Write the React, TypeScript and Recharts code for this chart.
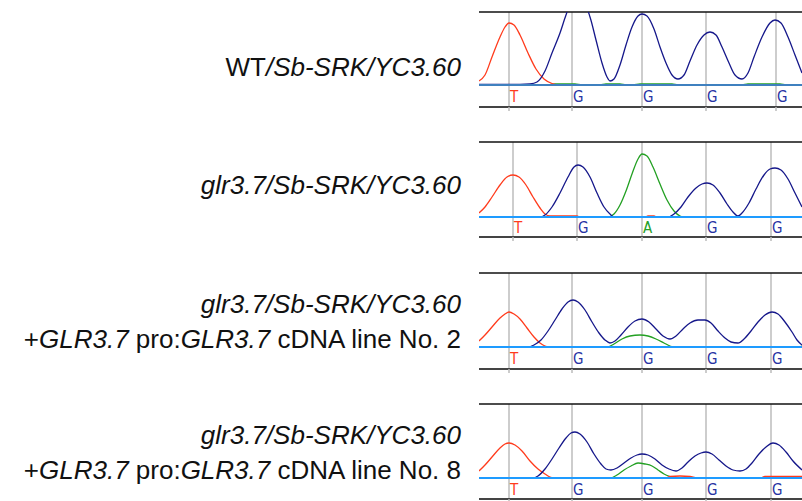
import { ComposedChart, Line, Scatter, XAxis, YAxis, ReferenceLine } from 'recharts';

// base calls per trace window (scan position) and called letters
const calls1 = [509, 572, 642, 706, 776];
const calls2 = [513, 577, 642, 706, 771];
const calls3 = [509, 572, 642, 706, 771];
const calls4 = [509, 572, 642, 706, 771];
const bases1 = ['T', 'G', 'G', 'G', 'G'];
const bases2 = ['T', 'G', 'A', 'G', 'G'];
const bases3 = ['T', 'G', 'G', 'G', 'G'];
const bases4 = ['T', 'G', 'G', 'G', 'G'];

// signal intensity [scan, value]
const wtT = [[479, 4], [485, 10], [492, 28], [500, 48], [505, 58], [509, 62], [514, 60], [520, 50], [528, 32], [536, 16], [544, 6], [552, 1.5], [560, 0], [802, 0]];
const wtG = [[479, 0.5], [520, 0.5], [530, 1], [537, 3], [545, 14], [552, 32], [560, 52], [566, 70], [570, 80], [585, 80], [590, 68], [596, 45], [602, 22], [607, 8], [610, 4], [614, 6], [620, 20], [626, 40], [632, 58], [638, 69], [642, 71], [647, 69], [654, 56], [660, 38], [666, 22], [672, 10], [678, 6], [684, 10], [690, 24], [697, 40], [704, 50], [710, 53], [716, 50], [722, 38], [729, 22], [735, 10], [742, 6], [748, 12], [754, 28], [762, 48], [770, 62], [775, 65], [781, 62], [788, 48], [795, 30], [802, 12]];
const wtA = [[479, 0], [548, 0], [555, 1], [575, 1], [582, 0], [600, 0], [606, 1], [620, 1], [626, 0], [633, 0], [640, 1], [672, 1], [678, 0], [742, 0], [748, 1], [780, 1], [786, 0], [802, 0]];
const wtC = [[479, 0], [802, 0]];

const mT = [[479, 4], [485, 10], [492, 20], [500, 32], [507, 40], [513, 42], [519, 40], [526, 32], [533, 20], [540, 9], [545, 3], [550, 1], [577, 1], [580, 0], [645, 0], [648, 1], [654, 1], [657, 0], [802, 0]];
const mG = [[479, 0], [540, 0], [545, 2], [552, 10], [560, 24], [568, 40], [574, 50], [578, 52], [583, 50], [590, 40], [597, 24], [604, 10], [610, 3], [614, 0], [668, 0], [674, 3], [681, 10], [688, 20], [696, 29], [702, 33], [707, 34], [713, 32], [720, 24], [727, 13], [733, 5], [738, 1], [742, 4], [749, 14], [756, 28], [764, 42], [770, 48], [775, 49], [781, 47], [788, 38], [795, 24], [802, 10]];
const mA = [[479, 0], [608, 0], [614, 3], [620, 12], [626, 26], [632, 43], [638, 58], [642, 63], [647, 61], [653, 50], [660, 33], [667, 17], [674, 6], [680, 1], [684, 0], [802, 0]];
const mC = [[479, 0], [802, 0]];

const c2T = [[479, 6], [485, 12], [492, 20], [500, 29], [505, 33], [509, 35], [514, 33], [520, 28], [527, 19], [534, 10], [540, 4], [545, 1], [550, 0], [802, 0]];
const c2G = [[479, 0], [528, 0], [534, 2], [541, 7], [548, 16], [555, 27], [562, 38], [568, 45], [573, 47], [578, 45], [585, 37], [592, 25], [599, 14], [605, 7], [610, 4], [615, 6], [621, 12], [628, 20], [635, 26], [642, 28], [649, 25], [656, 18], [663, 11], [670, 8], [676, 11], [683, 18], [690, 24], [698, 27], [705, 27], [711, 24], [718, 16], [725, 9], [731, 5], [738, 4], [744, 8], [751, 16], [758, 25], [765, 32], [772, 35], [778, 33], [785, 25], [792, 15], [797, 7], [802, 2]];
const c2A = [[479, 0], [607, 0], [614, 3], [622, 8], [630, 11], [640, 12], [648, 11], [656, 8], [664, 4], [670, 1], [673, 0], [798, 0], [802, 1]];
const c2C = [[479, 0], [802, 0]];

const c8T = [[479, 7], [485, 13], [492, 21], [500, 30], [505, 34], [509, 35], [515, 33], [522, 27], [530, 17], [538, 9], [545, 4], [550, 1], [555, 0], [665, 0], [670, 1.5], [680, 2], [690, 1.5], [697, 0], [760, 0], [765, 1.5], [802, 1.5]];
const c8G = [[479, 0], [533, 0], [538, 2], [545, 9], [552, 19], [559, 30], [566, 40], [571, 45], [575, 46], [580, 44], [587, 36], [594, 24], [601, 14], [606, 9], [611, 8], [617, 10], [624, 15], [631, 20], [637, 23], [642, 24], [648, 23], [655, 19], [662, 13], [669, 9], [676, 7], [682, 10], [688, 16], [695, 22], [701, 25], [706, 26], [712, 24], [719, 18], [726, 12], [733, 8], [740, 7], [746, 9], [752, 15], [759, 24], [766, 31], [773, 35], [779, 33], [786, 26], [793, 17], [802, 8]];
const c8A = [[479, 0], [610, 0], [617, 3], [624, 8], [631, 12], [638, 15], [645, 14], [652, 12], [658, 8], [664, 4], [670, 1.5], [675, 0], [802, 0]];
const c8C = [[479, 0], [802, 0]];

const RED = '#ff3b1c';
const NAVY = '#15178a';
const GREEN = '#23a023';
const baseColor: Record<string, string> = { T: RED, G: '#2633a3', A: '#25a025' };

const pts = (arr: number[][]) => arr.map(([x, y]) => ({ x, y }));

function Trace({ top, bottom, hi, lo, T, G, A, C, calls, bases, letterY, cyan }: any) {
  const labels = calls.map((x: number, i: number) => ({ x, y: letterY, base: bases[i] }));
  return (
    <div style={{ position: 'absolute', left: 479, top: top - 2, width: 323, height: bottom - top + 8 }}>
      <ComposedChart width={323} height={bottom - top + 8} margin={{ top: 2, right: 0, bottom: 0, left: 0 }}>
        <XAxis
          dataKey="x"
          type="number"
          domain={[479, 802]}
          allowDataOverflow
          ticks={calls}
          height={6}
          tickSize={4}
          axisLine={{ stroke: '#444', strokeWidth: 2 }}
          tickLine={{ stroke: '#bbb', strokeWidth: 1.5 }}
          tick={() => <g />}
        />
        <YAxis hide domain={[lo, hi]} allowDataOverflow />
        {calls.map((x: number) => (
          <ReferenceLine key={x} x={x} stroke="#bdbdbd" strokeWidth={1.5} />
        ))}
        <ReferenceLine y={hi} stroke="#111" strokeWidth={1.5} />
        <Line data={pts(A)} dataKey="y" type="monotone" stroke={GREEN} strokeWidth={1.3} dot={false} isAnimationActive={false} />
        <Line data={pts(T)} dataKey="y" type="monotone" stroke={RED} strokeWidth={1.3} dot={false} isAnimationActive={false} />
        <Line data={pts(G)} dataKey="y" type="monotone" stroke={NAVY} strokeWidth={1.3} dot={false} isAnimationActive={false} />
        <Line data={pts(C)} dataKey="y" type="linear" stroke={cyan} strokeWidth={2} dot={false} isAnimationActive={false} />
        <Scatter
          data={labels}
          dataKey="y"
          isAnimationActive={false}
          shape={(p: any) => (
            <text
              x={p.cx + 1}
              y={p.cy}
              fill={baseColor[p.payload.base]}
              fontSize={15}
              fontFamily="'DejaVu Sans Condensed', 'DejaVu Sans', sans-serif"
            >
              {p.payload.base}
            </text>
          )}
        />
      </ComposedChart>
    </div>
  );
}

const font = "'Liberation Sans', Arial, sans-serif";

export default function App() {
  return (
    <div style={{ position: 'absolute', left: 0, top: 0, width: 802, height: 501, background: '#fff', overflow: 'hidden' }}>
      <svg width={802} height={501} style={{ position: 'absolute', left: 0, top: 0 }}>
        <g fontFamily={font} fontSize={26} fill="#111" textAnchor="end">
          <text x={461} y={76}>
            <tspan>WT</tspan>
            <tspan fontStyle="italic">/Sb-SRK/YC3.60</tspan>
          </text>
          <text x={461} y={194} fontStyle="italic">glr3.7/Sb-SRK/YC3.60</text>
          <text x={461} y={313} fontStyle="italic">glr3.7/Sb-SRK/YC3.60</text>
          <text x={461} y={348}>
            <tspan>+</tspan>
            <tspan fontStyle="italic">GLR3.7</tspan>
            <tspan> pro:</tspan>
            <tspan fontStyle="italic">GLR3.7</tspan>
            <tspan> cDNA line No. 2</tspan>
          </text>
          <text x={461} y={444} fontStyle="italic">glr3.7/Sb-SRK/YC3.60</text>
          <text x={461} y={479}>
            <tspan>+</tspan>
            <tspan fontStyle="italic">GLR3.7</tspan>
            <tspan> pro:</tspan>
            <tspan fontStyle="italic">GLR3.7</tspan>
            <tspan> cDNA line No. 8</tspan>
          </text>
        </g>
      </svg>
      <Trace top={12} bottom={107} hi={73} lo={-22} T={wtT} G={wtG} A={wtA} C={wtC} calls={calls1} bases={bases1} letterY={-17} cyan="#3f80bf" />
      <Trace top={142} bottom={237} hi={75} lo={-20} T={mT} G={mG} A={mA} C={mC} calls={calls2} bases={bases2} letterY={-15.5} cyan="#1e9bff" />
      <Trace top={273} bottom={369} hi={74} lo={-22} T={c2T} G={c2G} A={c2A} C={c2C} calls={calls3} bases={bases3} letterY={-16.5} cyan="#1e9bff" />
      <Trace top={404} bottom={499} hi={74} lo={-21} T={c8T} G={c8G} A={c8A} C={c8C} calls={calls4} bases={bases4} letterY={-17} cyan="#1e9bff" />
    </div>
  );
}
